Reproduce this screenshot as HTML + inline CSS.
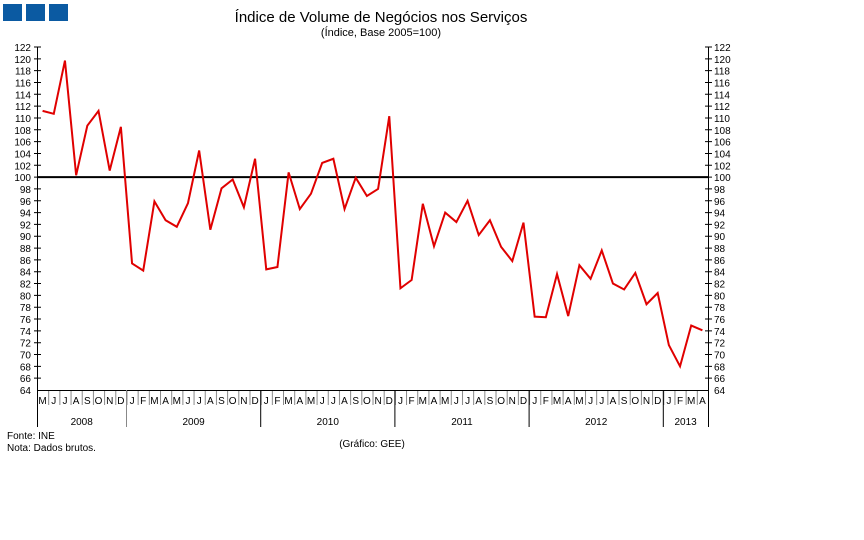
<!DOCTYPE html>
<html><head><meta charset="utf-8"><style>
html,body{margin:0;padding:0;background:#fff;}
svg{display:block;font-family:"Liberation Sans",sans-serif;}
</style></head><body>
<svg width="864" height="540" viewBox="0 0 864 540" xmlns="http://www.w3.org/2000/svg">
<rect x="3" y="4" width="19" height="17" fill="#0b5aa2"/>
<rect x="26" y="4" width="19" height="17" fill="#0b5aa2"/>
<rect x="49" y="4" width="19" height="17" fill="#0b5aa2"/>
<text x="381" y="22" font-size="15" text-anchor="middle" fill="#000">Índice de Volume de Negócios nos Serviços</text>
<text x="381" y="36" font-size="11" text-anchor="middle" fill="#000">(Índice, Base 2005=100)</text>
<defs>
<pattern id="sep" x="37" y="390" width="11.1833" height="15" patternUnits="userSpaceOnUse">
<line x1="0.5" y1="0" x2="0.5" y2="15" stroke="#888" stroke-width="1"/>
</pattern>
</defs>
<rect x="37" y="390" width="671" height="15" fill="url(#sep)"/>
<g stroke="#000" stroke-width="1">
<line x1="37.5" y1="47" x2="37.5" y2="427"/>
<line x1="708.5" y1="47" x2="708.5" y2="427"/>
<line x1="37" y1="390.5" x2="708" y2="390.5"/>
<line x1="126.5" y1="390" x2="126.5" y2="427" stroke="#888"/>
<line x1="260.7" y1="390" x2="260.7" y2="427"/>
<line x1="394.9" y1="390" x2="394.9" y2="427"/>
<line x1="529.1" y1="390" x2="529.1" y2="427"/>
<line x1="663.3" y1="390" x2="663.3" y2="427"/>
</g>
<g stroke="#000" stroke-width="1">
<path d="M34 47H41M34 58.83H41M34 70.66H41M34 82.49H41M34 94.31H41M34 106.14H41M34 117.97H41M34 129.79H41M34 141.62H41M34 153.45H41M34 165.28H41M34 177.1H41M34 188.93H41M34 200.76H41M34 212.59H41M34 224.41H41M34 236.24H41M34 248.07H41M34 259.9H41M34 271.72H41M34 283.55H41M34 295.38H41M34 307.2H41M34 319.03H41M34 330.86H41M34 342.69H41M34 354.51H41M34 366.34H41M34 378.17H41"/>
<path d="M705 47H712M705 58.83H712M705 70.66H712M705 82.49H712M705 94.31H712M705 106.14H712M705 117.97H712M705 129.79H712M705 141.62H712M705 153.45H712M705 165.28H712M705 177.1H712M705 188.93H712M705 200.76H712M705 212.59H712M705 224.41H712M705 236.24H712M705 248.07H712M705 259.9H712M705 271.72H712M705 283.55H712M705 295.38H712M705 307.2H712M705 319.03H712M705 330.86H712M705 342.69H712M705 354.51H712M705 366.34H712M705 378.17H712"/>
</g>
<g font-size="10" fill="#000" text-anchor="end">
<text x="31" y="51">122</text><text x="31" y="62.8">120</text><text x="31" y="74.7">118</text><text x="31" y="86.5">116</text><text x="31" y="98.3">114</text><text x="31" y="110.1">112</text><text x="31" y="122">110</text><text x="31" y="133.8">108</text><text x="31" y="145.6">106</text><text x="31" y="157.4">104</text><text x="31" y="169.3">102</text><text x="31" y="181.1">100</text><text x="31" y="192.9">98</text><text x="31" y="204.8">96</text><text x="31" y="216.6">94</text><text x="31" y="228.4">92</text><text x="31" y="240.2">90</text><text x="31" y="252.1">88</text><text x="31" y="263.9">86</text><text x="31" y="275.7">84</text><text x="31" y="287.5">82</text><text x="31" y="299.4">80</text><text x="31" y="311.2">78</text><text x="31" y="323">76</text><text x="31" y="334.9">74</text><text x="31" y="346.7">72</text><text x="31" y="358.5">70</text><text x="31" y="370.3">68</text><text x="31" y="382.2">66</text><text x="31" y="394">64</text>
</g>
<g font-size="10" fill="#000">
<text x="714" y="51">122</text><text x="714" y="62.8">120</text><text x="714" y="74.7">118</text><text x="714" y="86.5">116</text><text x="714" y="98.3">114</text><text x="714" y="110.1">112</text><text x="714" y="122">110</text><text x="714" y="133.8">108</text><text x="714" y="145.6">106</text><text x="714" y="157.4">104</text><text x="714" y="169.3">102</text><text x="714" y="181.1">100</text><text x="714" y="192.9">98</text><text x="714" y="204.8">96</text><text x="714" y="216.6">94</text><text x="714" y="228.4">92</text><text x="714" y="240.2">90</text><text x="714" y="252.1">88</text><text x="714" y="263.9">86</text><text x="714" y="275.7">84</text><text x="714" y="287.5">82</text><text x="714" y="299.4">80</text><text x="714" y="311.2">78</text><text x="714" y="323">76</text><text x="714" y="334.9">74</text><text x="714" y="346.7">72</text><text x="714" y="358.5">70</text><text x="714" y="370.3">68</text><text x="714" y="382.2">66</text><text x="714" y="394">64</text>
</g>
<g font-size="10" fill="#000" text-anchor="middle">
<text x="42.6" y="404">M</text><text x="53.8" y="404">J</text><text x="65.0" y="404">J</text><text x="76.1" y="404">A</text><text x="87.3" y="404">S</text><text x="98.5" y="404">O</text><text x="109.7" y="404">N</text><text x="120.9" y="404">D</text>
<text x="132.1" y="404">J</text><text x="143.2" y="404">F</text><text x="154.4" y="404">M</text><text x="165.6" y="404">A</text><text x="176.8" y="404">M</text><text x="188.0" y="404">J</text><text x="199.2" y="404">J</text><text x="210.3" y="404">A</text><text x="221.5" y="404">S</text><text x="232.7" y="404">O</text><text x="243.9" y="404">N</text><text x="255.1" y="404">D</text>
<text x="266.3" y="404">J</text><text x="277.4" y="404">F</text><text x="288.6" y="404">M</text><text x="299.8" y="404">A</text><text x="311.0" y="404">M</text><text x="322.2" y="404">J</text><text x="333.4" y="404">J</text><text x="344.5" y="404">A</text><text x="355.7" y="404">S</text><text x="366.9" y="404">O</text><text x="378.1" y="404">N</text><text x="389.3" y="404">D</text>
<text x="400.5" y="404">J</text><text x="411.6" y="404">F</text><text x="422.8" y="404">M</text><text x="434.0" y="404">A</text><text x="445.2" y="404">M</text><text x="456.4" y="404">J</text><text x="467.6" y="404">J</text><text x="478.7" y="404">A</text><text x="489.9" y="404">S</text><text x="501.1" y="404">O</text><text x="512.3" y="404">N</text><text x="523.5" y="404">D</text>
<text x="534.7" y="404">J</text><text x="545.8" y="404">F</text><text x="557.0" y="404">M</text><text x="568.2" y="404">A</text><text x="579.4" y="404">M</text><text x="590.6" y="404">J</text><text x="601.8" y="404">J</text><text x="612.9" y="404">A</text><text x="624.1" y="404">S</text><text x="635.3" y="404">O</text><text x="646.5" y="404">N</text><text x="657.7" y="404">D</text>
<text x="668.9" y="404">J</text><text x="680.0" y="404">F</text><text x="691.2" y="404">M</text><text x="702.4" y="404">A</text>
<text x="81.7" y="425">2008</text><text x="193.6" y="425">2009</text><text x="327.8" y="425">2010</text><text x="462" y="425">2011</text><text x="596.2" y="425">2012</text><text x="685.6" y="425">2013</text>
<text x="372" y="447">(Gráfico: GEE)</text>
</g>
<g font-size="10" fill="#000">
<text x="7" y="439">Fonte: INE</text>
<text x="7" y="451">Nota: Dados brutos.</text>
</g>
<line x1="37" y1="177.1" x2="708" y2="177.1" stroke="#000" stroke-width="2"/>
<polyline transform="matrix(11.1833,0,0,-5.9138,42.59,768.48)" vector-effect="non-scaling-stroke" fill="none" stroke="#e00000" stroke-width="2" stroke-linejoin="miter"
points="0,111.2 1,110.7 2,119.7 3,100.3 4,108.7 5,111.2 6,101.1 7,108.5 8,85.4 9,84.2 10,95.9 11,92.7 12,91.6 13,95.6 14,104.5 15,91.1 16,98.1 17,99.6 18,94.9 19,103.1 20,84.4 21,84.8 22,100.8 23,94.6 24,97.2 25,102.4 26,103.1 27,94.6 28,99.9 29,96.8 30,98.0 31,110.3 32,81.2 33,82.6 34,95.5 35,88.3 36,94.0 37,92.4 38,96.0 39,90.2 40,92.7 41,88.2 42,85.8 43,92.3 44,76.4 45,76.3 46,83.6 47,76.5 48,85.1 49,82.8 50,87.6 51,82.0 52,81.0 53,83.8 54,78.5 55,80.4 56,71.6 57,68.0 58,74.9 59,74.1"/>
</svg>
</body></html>
